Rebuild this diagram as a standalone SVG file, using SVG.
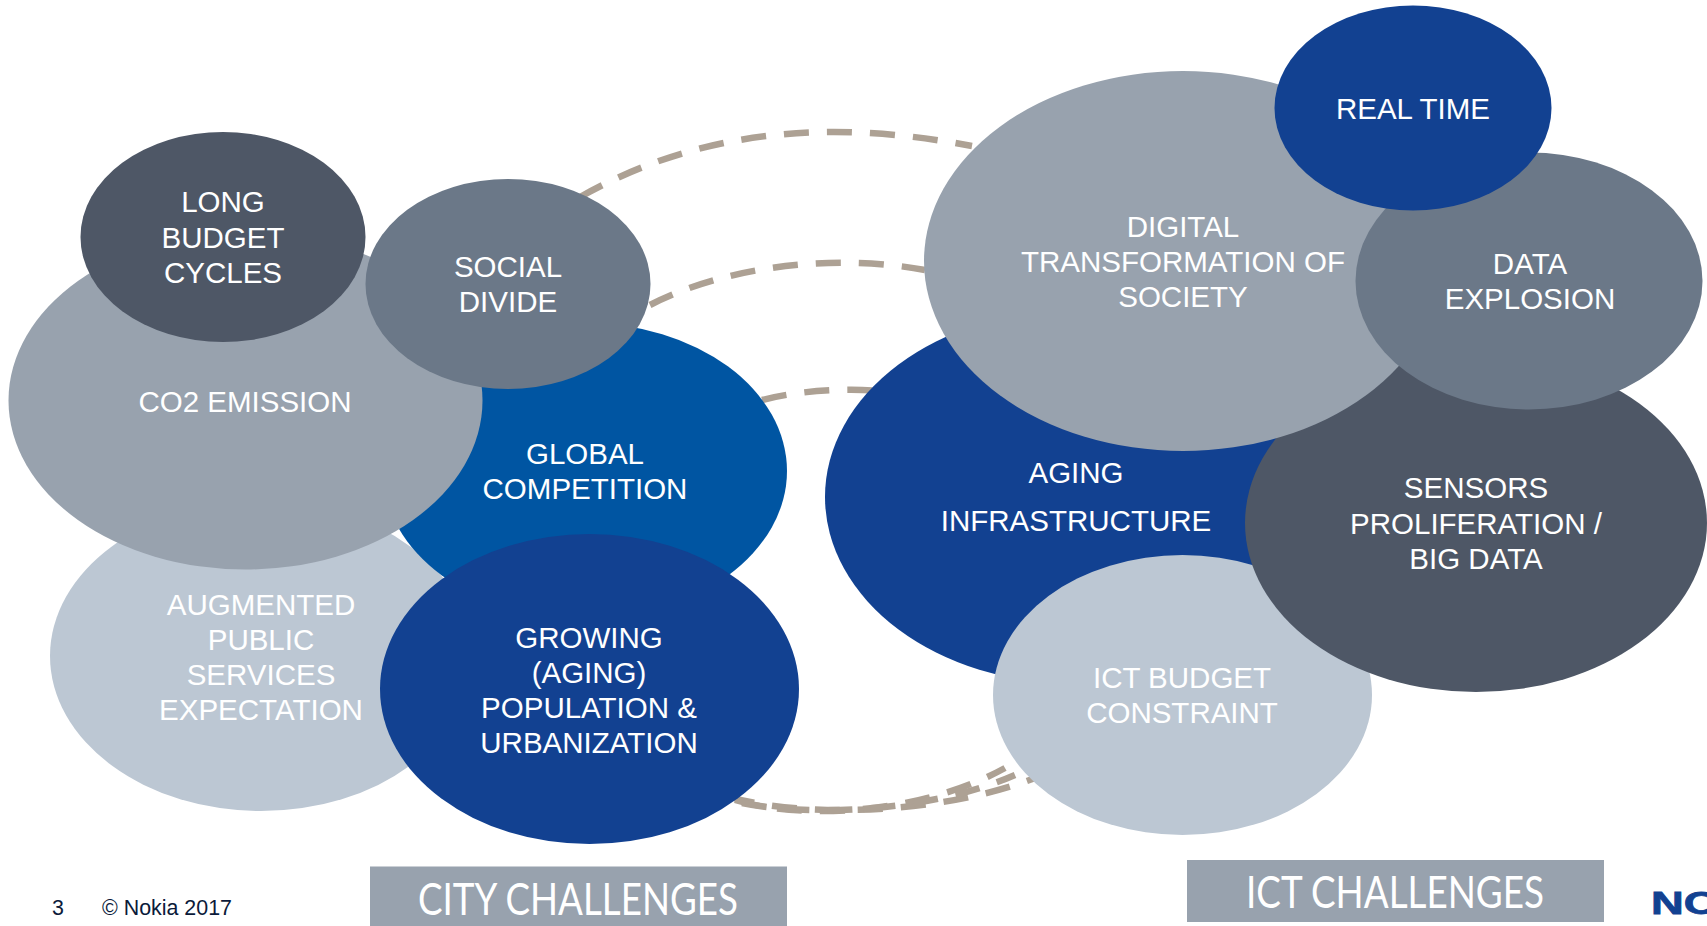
<svg xmlns="http://www.w3.org/2000/svg" width="1707" height="926" viewBox="0 0 1707 926">
<style>
text{font-family:"Liberation Sans",Arial,sans-serif;font-size:29.500px;fill:#fff;text-anchor:middle}
.d{fill:none;stroke:#ada194;stroke-width:6.500;stroke-dasharray:25 18}
.h{font-family:Lato,"Open Sans",sans-serif;font-size:44px;font-weight:400}
.f{font-size:21.400px;fill:#0b1a3a;text-anchor:start}
.l1{fill:#bcc7d3}.l2{fill:#98a2ae}.m{fill:#6b7888}.k{fill:#4e5766}.b{fill:#124191}.c{fill:#0055a2}
</style>
<rect width="1707" height="926" fill="#fff"/>
<g id="connectors">
<path class="d" d="M580 197C720 118 860 125 972 146"/>
<path class="d" d="M650 305C730 264 840 254 925 270"/>
<path class="d" d="M762 400C800 390 850 388 880 391"/>
<path class="d" d="M730 797C800 818 940 815 1035 778"/>
<path class="d" d="M735 800C800 820 920 815 1005 768"/>
<path class="d" d="M742 803C810 817 930 812 1015 775"/>
</g>
<g id="augmented"><ellipse class="l1" cx="261" cy="656" rx="211" ry="155"/><text x="261" y="615">AUGMENTED</text><text x="261" y="650">PUBLIC</text><text x="261" y="685">SERVICES</text><text x="261" y="720">EXPECTATION</text></g>
<g id="global"><ellipse class="c" cx="585" cy="471" rx="202" ry="148"/><text x="585" y="464">GLOBAL</text><text x="585" y="499">COMPETITION</text></g>
<g id="co2"><ellipse class="l2" cx="245.500" cy="400.500" rx="237" ry="169"/><text x="245" y="412">CO2 EMISSION</text></g>
<g id="growing"><ellipse class="b" cx="589.500" cy="689" rx="209.500" ry="155"/><text x="589" y="648">GROWING</text><text x="589" y="683">(AGING)</text><text x="589" y="718">POPULATION &amp;</text><text x="589" y="753">URBANIZATION</text></g>
<g id="budget"><ellipse class="k" cx="223" cy="237" rx="142.500" ry="105"/><text x="223" y="212">LONG</text><text x="223" y="248">BUDGET</text><text x="223" y="283">CYCLES</text></g>
<g id="social"><ellipse class="m" cx="508" cy="284" rx="142.500" ry="105"/><text x="508" y="277">SOCIAL</text><text x="508" y="312">DIVIDE</text></g>
<g id="aging"><ellipse class="b" cx="1075" cy="497" rx="250" ry="187"/><text x="1076" y="483">AGING</text><text x="1076" y="531">INFRASTRUCTURE</text></g>
<g id="ict"><ellipse class="l1" cx="1182.500" cy="695" rx="189.500" ry="140"/><text x="1182" y="688">ICT BUDGET</text><text x="1182" y="723">CONSTRAINT</text></g>
<g id="sensors"><ellipse class="k" cx="1476" cy="523" rx="231" ry="169"/><text x="1476" y="498">SENSORS</text><text x="1476" y="534">PROLIFERATION /</text><text x="1476" y="569">BIG DATA</text></g>
<g id="digital"><ellipse class="l2" cx="1183" cy="261" rx="259" ry="190"/><text x="1183" y="237">DIGITAL</text><text x="1183" y="272">TRANSFORMATION OF</text><text x="1183" y="307">SOCIETY</text></g>
<g id="data"><ellipse class="m" cx="1529" cy="281" rx="173.500" ry="128.500"/><text x="1530" y="274">DATA</text><text x="1530" y="309">EXPLOSION</text></g>
<g id="realtime"><ellipse class="b" cx="1413" cy="108" rx="138.500" ry="102.500"/><text x="1413" y="119">REAL TIME</text></g>
<g id="city-label"><rect x="370" y="866.500" width="417" height="60" fill="#98a2ae"/><text class="h" x="578" y="915" textLength="320" lengthAdjust="spacingAndGlyphs">CITY CHALLENGES</text></g>
<g id="ict-label"><rect x="1187" y="860" width="417" height="62" fill="#98a2ae"/><text class="h" x="1395" y="908" textLength="298" lengthAdjust="spacingAndGlyphs">ICT CHALLENGES</text></g>
<text class="f" x="52" y="915">3</text>
<text class="f" x="102" y="915">© Nokia 2017</text>
<text x="1651" y="914" textLength="68" lengthAdjust="spacingAndGlyphs" style="font-size:31px;font-weight:bold;fill:#124191;stroke:#124191;stroke-width:.8;text-anchor:start">NO</text>
</svg>
